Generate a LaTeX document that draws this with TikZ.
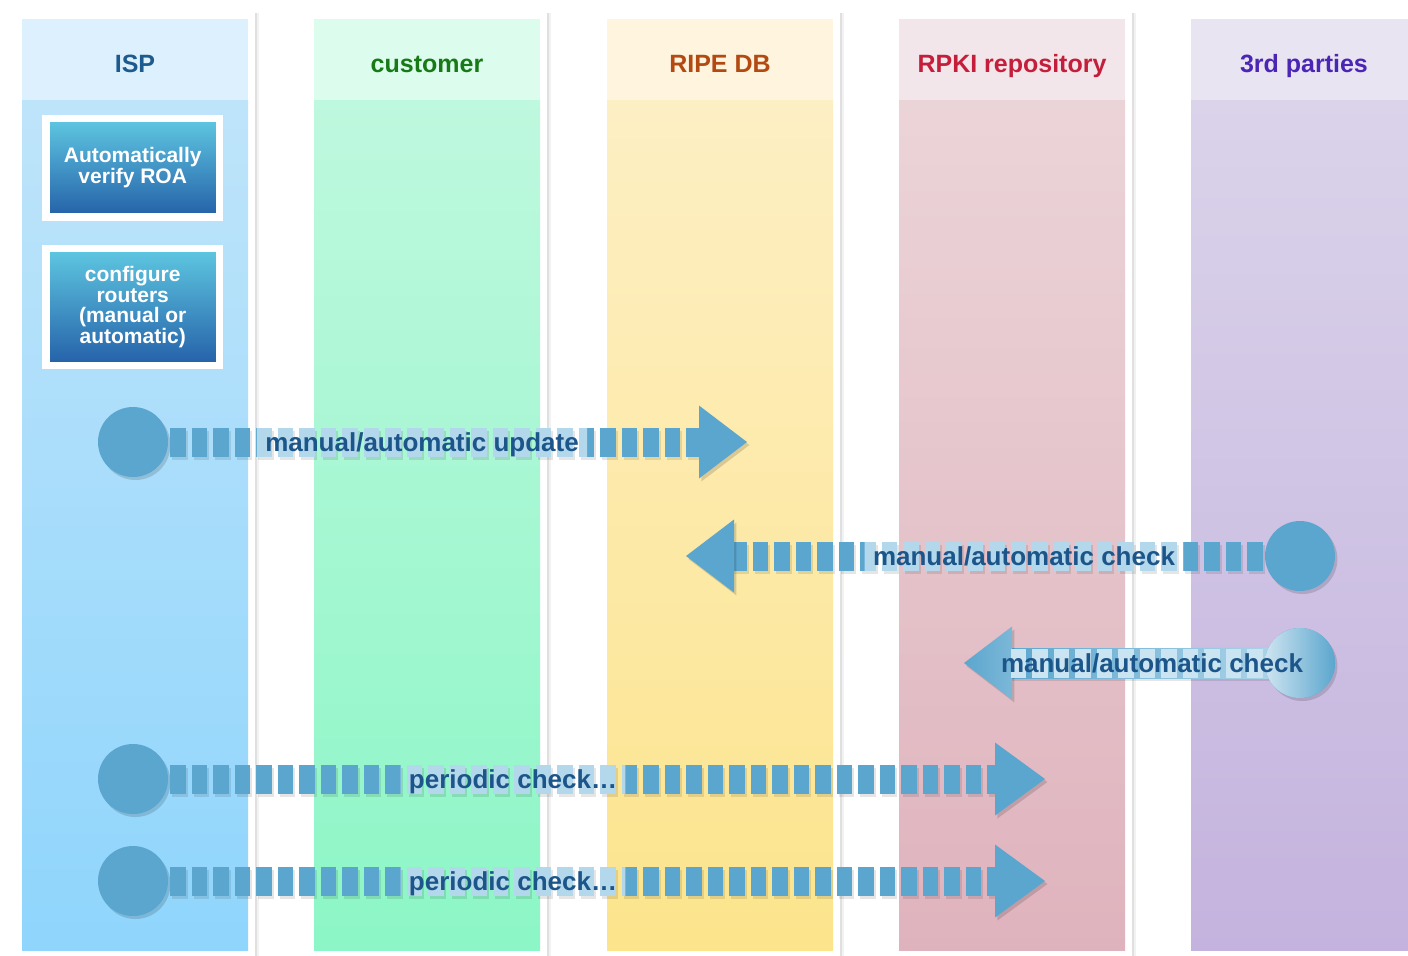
\documentclass[tikz,border=0pt]{standalone}
\usepackage{fontspec}
\setmainfont{Liberation Sans}
\usetikzlibrary{calc,shadows}
\pgfdeclarelayer{top}
\pgfsetlayers{main,top}
\definecolor{arrowblue}{HTML}{5BA6CE}
\definecolor{arrowlight}{HTML}{B4D8EB}
\definecolor{lbltext}{HTML}{1C5589}
\definecolor{boxtop}{HTML}{5FC8E2}
\definecolor{boxbot}{HTML}{2460A8}
\definecolor{ispH}{HTML}{DDF0FE}\definecolor{ispT}{HTML}{BEE4FA}\definecolor{ispB}{HTML}{8FD5FC}\definecolor{ispC}{HTML}{1D5B8E}
\definecolor{cusH}{HTML}{DCFCEE}\definecolor{cusT}{HTML}{BEF8DE}\definecolor{cusB}{HTML}{8CF6C6}\definecolor{cusC}{HTML}{177A17}
\definecolor{ripH}{HTML}{FFF5DF}\definecolor{ripT}{HTML}{FDEFC4}\definecolor{ripB}{HTML}{FCE48C}\definecolor{ripC}{HTML}{B24A12}
\definecolor{rpkH}{HTML}{F2E6EA}\definecolor{rpkT}{HTML}{EBD4D8}\definecolor{rpkB}{HTML}{DFB3BD}\definecolor{rpkC}{HTML}{C41E3A}
\definecolor{thdH}{HTML}{E8E4F2}\definecolor{thdT}{HTML}{DAD3EA}\definecolor{thdB}{HTML}{C4B3DE}\definecolor{thdC}{HTML}{4B25B3}
\tikzset{
  softshadow/.style={drop shadow={shadow xshift=1.2pt, shadow yshift=-1.5pt, opacity=0.14, fill=black}},
  laneframe/.style={fill=white,
    drop shadow={shadow xshift=2pt, shadow yshift=-0.6pt, opacity=0.05, fill=black},
    drop shadow={shadow xshift=1pt, shadow yshift=-0.3pt, opacity=0.07, fill=black}},
  ttl/.style={font=\bfseries\fontsize{12.5}{15}\selectfont, anchor=base, inner sep=0pt},
  box/.style={draw=white, line width=3.75pt, top color=boxtop, bottom color=boxbot, text=white,
    font=\bfseries\fontsize{10.5}{10.2}\selectfont, align=center, minimum width=86.75pt, inner sep=0pt, softshadow},
  dot/.style={circle, fill=arrowblue, minimum size=35pt, inner sep=0pt, softshadow},
  dotshaded/.style={dot, left color=arrowblue!30!white, right color=arrowblue},
  headshape/.style={fill=arrowblue, softshadow},
  shaft/.style={draw=arrowblue, line width=14.5pt, dash pattern=on 7.75pt off 3pt, dash phase=9.75pt},
  shaftshadow/.style={shaft, draw=black, draw opacity=0.1},
  lightshaft/.style={shaft, draw=arrowlight},
  lbl/.style={font=\bfseries\fontsize{13}{15}\selectfont, text=lbltext, text height=9.4pt, text depth=0pt, inner ysep=2.8pt, inner xsep=4pt},
}
\begin{document}
\begin{tikzpicture}[x=0.5pt,y=-0.5pt]
\useasboundingbox (0,0) rectangle (1408,955);
\fill[white] (0,0) rectangle (1408,955);
\foreach \L/\hc/\bt/\bb/\tc/\txt/\nm in {22/ispH/ispT/ispB/ispC/ISP/isp,314/cusH/cusT/cusB/cusC/customer/cus,607/ripH/ripT/ripB/ripC/RIPE DB/rip,899/rpkH/rpkT/rpkB/rpkC/RPKI repository/rpk,1191/thdH/thdT/thdB/thdC/3rd parties/thd}{
  \fill[laneframe] (\L-7,12) rectangle (\L+233,975);
  \fill[\hc] (\L,19) rectangle (\L+226,100);
  \shade[top color=\bt, bottom color=\bb] (\L,100) rectangle (\L+226,950);
  \node[ttl, text=\tc] (title-\nm) at (\L+113,72) {\txt};
}

% boxes
\node[box, minimum height=49.25pt] (verify) at (132.75,167.75) {Automatically\\verify ROA};
\node[box, minimum height=58.5pt] (config) at (132.75,307) {configure\\routers\\(manual or\\automatic)};

% arrow 1
\coordinate (t1) at (747,442);
\node[dot] (s1) at (133,442) {};
\draw[shaftshadow] ($(s1.east)+(2,3)$) -- ($(t1)+(-44,3)$);
\draw[shaft] (s1.east) -- ($(t1)+(-46,0)$);
\fill[headshape] ($(t1)+(-48,-36.5)$) -- (t1) -- ($(t1)+(-48,36.5)$) -- cycle;
\begin{pgfonlayer}{top}
\node[lbl] (l1) at (422,442) {manual/automatic update};
\end{pgfonlayer}
\begin{scope}
\clip (l1.south west) rectangle (l1.north east);
\draw[lightshaft] (s1.east) -- ($(t1)+(-46,0)$);
\end{scope}

% arrow 2
\coordinate (t2) at (686,556);
\node[dot] (s2) at (1300,556) {};
\draw[shaftshadow] ($(s2.west)+(2,3)$) -- ($(t2)+(48,3)$);
\draw[shaft] (s2.west) -- ($(t2)+(46,0)$);
\fill[headshape] ($(t2)+(48,-36.5)$) -- (t2) -- ($(t2)+(48,36.5)$) -- cycle;
\begin{pgfonlayer}{top}
\node[lbl] (l2) at (1024,556) {manual/automatic check};
\end{pgfonlayer}
\begin{scope}
\clip (l2.south west) rectangle (l2.north east);
\draw[lightshaft] (s2.west) -- ($(t2)+(46,0)$);
\end{scope}

% arrow 3
\coordinate (t3) at (964,663);
\coordinate (c3) at (1300,663);
\fill[black, opacity=0.1] ($(t3)+(47,-12)$) rectangle ($(c3)+(0,18)$);
\shade[left color=arrowblue, right color=arrowlight] ($(t3)+(44,-15)$) rectangle ($(c3)+(0,15)$);
\shade[left color=arrowblue, right color=arrowblue!80!white, softshadow] ($(t3)+(48,-36.5)$) -- (t3) -- ($(t3)+(48,36.5)$) -- cycle;
\node[dotshaded] (s3) at (c3) {};
\begin{pgfonlayer}{top}
\node[lbl] (l3) at (1152,663) {manual/automatic check};
\end{pgfonlayer}
\begin{scope}
\clip (l3.south west) rectangle (s3.center |- l3.north east);
\draw[lightshaft, draw=arrowlight!70!white] (s3.west) -- ($(t3)+(46,0)$);
\end{scope}

% arrow 4
\coordinate (t4) at (1045,779);
\node[dot] (s4) at (133,779) {};
\draw[shaftshadow] ($(s4.east)+(2,3)$) -- ($(t4)+(-46,3)$);
\draw[shaft] (s4.east) -- ($(t4)+(-48,0)$);
\fill[headshape] ($(t4)+(-50,-36.5)$) -- (t4) -- ($(t4)+(-50,36.5)$) -- cycle;
\begin{pgfonlayer}{top}
\node[lbl] (l4) at (513,779) {periodic check…};
\end{pgfonlayer}
\begin{scope}
\clip (l4.south west) rectangle (l4.north east);
\draw[lightshaft] (s4.east) -- ($(t4)+(-48,0)$);
\end{scope}

% arrow 5
\coordinate (t5) at (1045,881);
\node[dot] (s5) at (133,881) {};
\draw[shaftshadow] ($(s5.east)+(2,3)$) -- ($(t5)+(-46,3)$);
\draw[shaft] (s5.east) -- ($(t5)+(-48,0)$);
\fill[headshape] ($(t5)+(-50,-36.5)$) -- (t5) -- ($(t5)+(-50,36.5)$) -- cycle;
\begin{pgfonlayer}{top}
\node[lbl] (l5) at (513,881) {periodic check…};
\end{pgfonlayer}
\begin{scope}
\clip (l5.south west) rectangle (l5.north east);
\draw[lightshaft] (s5.east) -- ($(t5)+(-48,0)$);
\end{scope}
\end{tikzpicture}
\end{document}
